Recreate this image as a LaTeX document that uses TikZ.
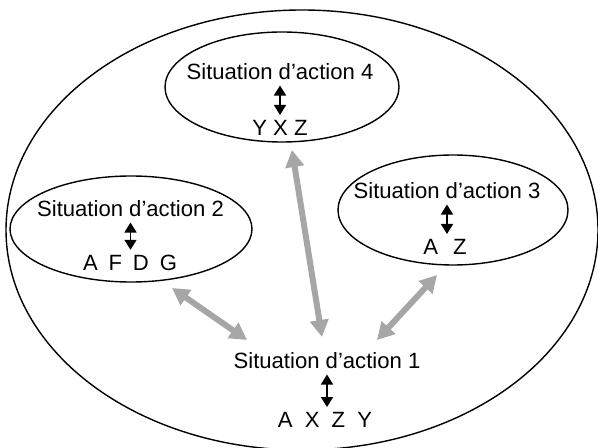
\documentclass[tikz,border=0pt]{standalone}
\usepackage{fontspec}
\setmainfont{Liberation Sans}
\usetikzlibrary{arrows.meta, positioning, shapes.geometric}

\begin{document}
\begin{tikzpicture}[x=0.5pt, y=-0.5pt,
    situation/.style={draw, ellipse, line width=0.7pt, inner sep=0pt},
    sittext/.style={inner sep=0pt, font=\fontsize{11.05pt}{13pt}\selectfont},
    relation/.style={{Triangle[length=5pt, width=6pt]}-{Triangle[length=5pt, width=6pt]},
        line width=0.75pt, shorten <=2.5pt, shorten >=2.5pt},
    link/.style={{Triangle[length=8.5pt, width=9pt]}-{Triangle[length=8.5pt, width=9pt]},
        line width=3pt, draw=black!35}]
    \clip (0,0) rectangle (598,448);

    % outer field and the three small situations
    \node[situation, minimum width=592pt/2, minimum height=440pt/2] (field) at (302,230) {};
    \node[situation, minimum width=234pt/2, minimum height=110pt/2] (e4) at (282,87) {};
    \node[situation, minimum width=242pt/2, minimum height=106pt/2] (e2) at (131,229) {};
    \node[situation, minimum width=230pt/2, minimum height=110pt/2] (e3) at (453,210) {};

    % titles and their elements
    \node[sittext] (t4) at (280,72) {Situation d’action 4};
    \node[sittext] (l4) at (280,128) {Y X Z};
    \node[sittext] (t2) at (130.5,209) {Situation d’action 2};
    \node[sittext] (l2) at (130,263) {A\hspace{0.49em}F\hspace{0.49em}D\hspace{0.49em}G};
    \node[sittext] (t3) at (447,191) {Situation d’action 3};
    \node[sittext] (l3) at (445,247) {A\hspace{0.68em}Z};
    \node[sittext] (t1) at (327,361) {Situation d’action 1};
    \node[sittext] (l1) at (325,420) {A\hspace{0.55em}X\hspace{0.55em}Z\hspace{0.55em}Y};

    \draw[relation] (t4.south) -- (t4.south |- l4.north);
    \draw[relation] (t2.south) -- (t2.south |- l2.north);
    \draw[relation] (t3.south) -- (t3.south |- l3.north);
    \draw[relation] (t1.south) -- (t1.south |- l1.north);

    % grey links towards situation 1
    \coordinate (c2) at (172,288);
    \coordinate (c21) at (247,340);
    \coordinate (c4) at (292,150);
    \coordinate (c41) at (322,337);
    \coordinate (c3) at (437,275);
    \coordinate (c31) at (377,340);
    \draw[link] (c2) -- (c21);
    \draw[link] (c4) -- (c41);
    \draw[link] (c3) -- (c31);
\end{tikzpicture}
\end{document}
